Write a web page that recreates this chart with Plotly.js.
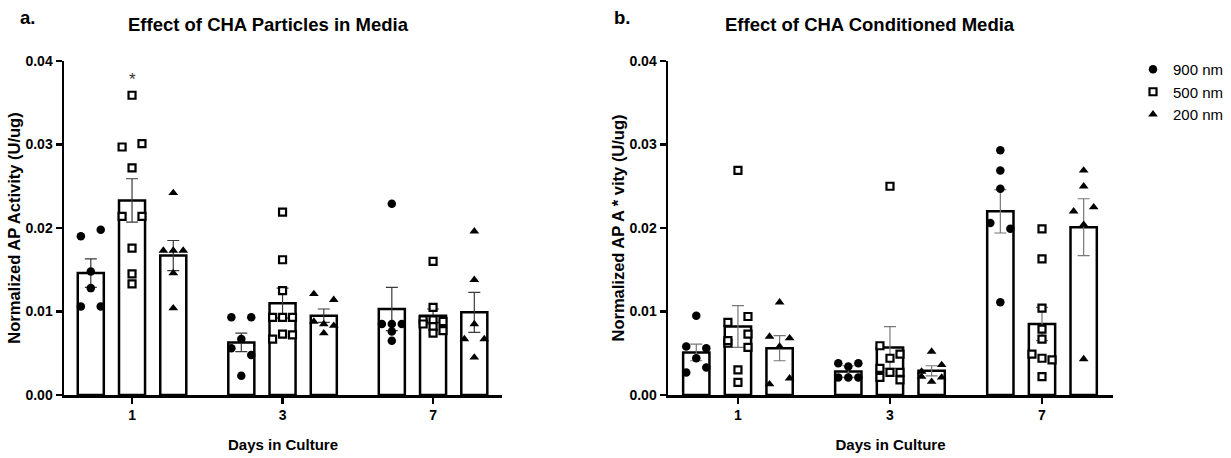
<!DOCTYPE html>
<html>
<head>
<meta charset="utf-8">
<script src="https://cdn.plot.ly/plotly-3.0.1.min.js"></script>
<style>
  html, body { margin: 0; padding: 0; background: #fff; }
  #chart { width: 1231px; height: 458px; }
</style>
</head>
<body>
<div id="chart"></div>
<script>
// ---------------- DATA ----------------
const days = ['1', '3', '7'];
const sizes = ['900 nm', '500 nm', '200 nm'];

// Panel a: Effect of CHA Particles in Media
const meanA_900 = [0.0146, 0.0063, 0.0103];
const semA_900  = [0.0017, 0.0011, 0.0026];
const meanA_500 = [0.0233, 0.0110, 0.0095];
const semA_500  = [0.0026, 0.0018, 0.0008];
const meanA_200 = [0.0167, 0.0095, 0.0099];
const semA_200  = [0.0018, 0.0008, 0.0024];

const pointsA_900 = [
  [0.0190, 0.0198, 0.0148, 0.0128, 0.0106, 0.0106],
  [0.0093, 0.0093, 0.0067, 0.0056, 0.0048, 0.0023],
  [0.0229, 0.0085, 0.0085, 0.0085, 0.0076, 0.0065]
];
const pointsA_500 = [
  [0.0359, 0.0297, 0.0301, 0.0272, 0.0214, 0.0214, 0.0176, 0.0145, 0.0133],
  [0.0219, 0.0162, 0.0125, 0.0093, 0.0093, 0.0093, 0.0067, 0.0073, 0.0072],
  [0.0160, 0.0105, 0.0090, 0.0090, 0.0088, 0.0085, 0.0082, 0.0077, 0.0074]
];
const pointsA_200 = [
  [0.0242, 0.0173, 0.0173, 0.0173, 0.0146, 0.0104],
  [0.0121, 0.0114, 0.0088, 0.0085, 0.0083, 0.0074],
  [0.0196, 0.0138, 0.0085, 0.0067, 0.0067, 0.0045]
];

// Panel b: Effect of CHA Conditioned Media
const meanB_900 = [0.0051, 0.0028, 0.0220];
const semB_900  = [0.0010, 0.0007, 0.0026];
const meanB_500 = [0.0082, 0.0057, 0.0085];
const semB_500  = [0.0025, 0.0025, 0.0020];
const meanB_200 = [0.0056, 0.0029, 0.0201];
const semB_200  = [0.0015, 0.0006, 0.0034];

const pointsB_900 = [
  [0.0095, 0.0058, 0.0056, 0.0044, 0.0027, 0.0033],
  [0.0038, 0.0034, 0.0038, 0.0021, 0.0021, 0.0021],
  [0.0293, 0.0269, 0.0247, 0.0206, 0.0199, 0.0111]
];
const pointsB_500 = [
  [0.0269, 0.0087, 0.0094, 0.0062, 0.0065, 0.0073, 0.0057, 0.0030, 0.0015],
  [0.0250, 0.0059, 0.0049, 0.0044, 0.0032, 0.0027, 0.0027, 0.0021, 0.0018],
  [0.0199, 0.0163, 0.0104, 0.0079, 0.0067, 0.0049, 0.0044, 0.0042, 0.0022]
];
const pointsB_200 = [
  [0.0111, 0.0070, 0.0068, 0.0058, 0.0013, 0.0020],
  [0.0052, 0.0028, 0.0022, 0.0036, 0.0016, 0.0021],
  [0.0269, 0.0250, 0.0220, 0.0225, 0.0204, 0.0043]
];

// significance marks: panel, day, series, label
const sigMarks = [{ panel: 'a', day: '1', series: '500 nm', label: '*' }];

const panelTitles = ['Effect of CHA Particles in Media', 'Effect of CHA Conditioned Media'];
const panelLetters = ['a.', 'b.'];
const yTitles = ['Normalized AP Activity (U/ug)', 'Normalized AP A * vity (U/ug)'];
const xTitle = 'Days in Culture';

// ---------------- STYLE / LAYOUT ----------------
const W = 1231, H = 458;
const FONT = 'Liberation Sans, Arial, Helvetica, sans-serif';
const seriesOffset = [-0.274, 0, 0.274];
const barWidth = 0.173;
const dotSpacing = 0.066;     // horizontal slot width of dots (x units)
const rowThresh = 0.00105;    // values closer than this share a row
const maxPerRow = 3;
const markerStyles = [
  { symbol: 'circle', size: 8.5, color: '#000', line: { color: '#000', width: 0 } },
  { symbol: 'square', size: 7, color: '#fff', line: { color: '#000', width: 2.2 } },
  { symbol: 'triangle-up', size: 8.5, color: '#000', line: { color: '#000', width: 0 } }
];

// simple row-based dot layout (GraphPad-like scatter) computed from values
function swarm(vals) {
  const idx = vals.map((v, i) => i).sort((a, b) => vals[b] - vals[a] || a - b);
  const off = new Array(vals.length).fill(0);
  let row = [];
  const flush = () => {
    const n = row.length;
    const step = n === 2 ? 2 * dotSpacing : dotSpacing;
    row.sort((a, b) => a - b);
    row.forEach((id, k) => { off[id] = (k - (n - 1) / 2) * step; });
    row = [];
  };
  idx.forEach(id => {
    if (row.length && (vals[row[0]] - vals[id] > rowThresh || row.length >= maxPerRow)) flush();
    row.push(id);
  });
  flush();
  return off;
}

const panels = [
  { means: [meanA_900, meanA_500, meanA_200], sems: [semA_900, semA_500, semA_200],
    pts: [pointsA_900, pointsA_500, pointsA_200], xa: 'x', ya: 'y', err: '#3a3a3a', legend: true },
  { means: [meanB_900, meanB_500, meanB_200], sems: [semB_900, semB_500, semB_200],
    pts: [pointsB_900, pointsB_500, pointsB_200], xa: 'x2', ya: 'y2', err: '#777', legend: false }
];

const traces = [];
panels.forEach(p => {
  sizes.forEach((s, si) => {
    traces.push({
      type: 'bar', name: s, xaxis: p.xa, yaxis: p.ya,
      x: days.map((d, di) => di + seriesOffset[si]),
      y: p.means[si], width: barWidth,
      marker: { color: '#fff', line: { color: '#000', width: 2.5 } },
      error_y: { type: 'data', array: p.sems[si], visible: true, color: p.err, thickness: 1.2, width: 6 },
      showlegend: false, hoverinfo: 'skip'
    });
  });
});
panels.forEach(p => {
  sizes.forEach((s, si) => {
    const xs = [], ys = [];
    days.forEach((d, di) => {
      const vals = p.pts[si][di];
      const off = swarm(vals);
      vals.forEach((v, k) => { xs.push(di + seriesOffset[si] + off[k]); ys.push(v); });
    });
    traces.push({
      type: 'scatter', mode: 'markers', name: s, xaxis: p.xa, yaxis: p.ya,
      x: xs, y: ys, marker: markerStyles[si], cliponaxis: false,
      showlegend: p.legend, legendgroup: s
    });
  });
});

const px = v => v / W;
const py = v => 1 - v / H;

function xAxis(domL, domR, range) {
  return {
    domain: [px(domL), px(domR)], range: range,
    tickmode: 'array', tickvals: days.map((d, i) => i), ticktext: days,
    showline: true, linecolor: '#000', linewidth: 2.5, mirror: false,
    ticks: 'outside', ticklen: 6, tickwidth: 2.5, tickcolor: '#000',
    showgrid: false, zeroline: false,
    tickfont: { family: FONT, size: 14, color: '#000', weight: 'bold' },
    title: { text: xTitle, font: { family: FONT, size: 15, color: '#000', weight: 'bold' }, standoff: 17 }
  };
}
function yAxis(anchor, title) {
  return {
    domain: [py(395), py(61)], range: [0, 0.04], anchor: anchor,
    tickmode: 'linear', tick0: 0, dtick: 0.01, tickformat: '.2f',
    showline: true, linecolor: '#000', linewidth: 2.5,
    ticks: 'outside', ticklen: 6, tickwidth: 2.5, tickcolor: '#000',
    showgrid: false, zeroline: false,
    tickfont: { family: FONT, size: 14, color: '#000', weight: 'bold' },
    title: { text: title, font: { family: FONT, size: 16.5, color: '#000', weight: 'bold' }, standoff: 1 }
  };
}

const annotations = [];
const titleCenters = [268, 870];
const letterX = [18, 612];
[0, 1].forEach(i => {
  annotations.push({
    xref: 'paper', yref: 'paper', x: px(titleCenters[i]), y: py(25), xanchor: 'center', yanchor: 'middle',
    text: panelTitles[i], showarrow: false,
    font: { family: FONT, size: 18.5, color: '#000', weight: 'bold' }
  });
  annotations.push({
    xref: 'paper', yref: 'paper', x: px(letterX[i]), y: py(17), xanchor: 'left', yanchor: 'middle',
    text: panelLetters[i], showarrow: false,
    font: { family: FONT, size: 18.5, color: '#000', weight: 'bold' }
  });
});
sigMarks.forEach(m => {
  const p = m.panel === 'a' ? panels[0] : panels[1];
  const si = sizes.indexOf(m.series), di = days.indexOf(m.day);
  const top = Math.max(...p.pts[si][di]);
  annotations.push({
    xref: p.xa, yref: p.ya, x: di + seriesOffset[si], y: top + 0.0005, xanchor: 'center', yanchor: 'bottom',
    text: m.label, showarrow: false, font: { family: FONT, size: 17, color: '#333' }
  });
});

const layout = {
  width: W, height: H,
  margin: { l: 0, r: 0, t: 0, b: 0 },
  paper_bgcolor: '#fff', plot_bgcolor: 'rgba(0,0,0,0)',
  barmode: 'overlay',
  xaxis: xAxis(64, 502, [-0.452, 2.458]),
  yaxis: yAxis('x', yTitles[0]),
  xaxis2: xAxis(668, 1113, [-0.46, 2.467]),
  yaxis2: yAxis('x2', yTitles[1]),
  showlegend: true,
  legend: {
    x: px(1133), y: py(53), xanchor: 'left', yanchor: 'top',
    font: { family: FONT, size: 15, color: '#000' },
    bgcolor: 'rgba(0,0,0,0)', tracegroupgap: 0, itemclick: false
  },
  annotations: annotations,
  font: { family: FONT, color: '#000' }
};
layout.xaxis.anchor = 'y';
layout.xaxis2.anchor = 'y2';

Plotly.newPlot('chart', traces, layout, { displayModeBar: false, staticPlot: true });
</script>
</body>
</html>
